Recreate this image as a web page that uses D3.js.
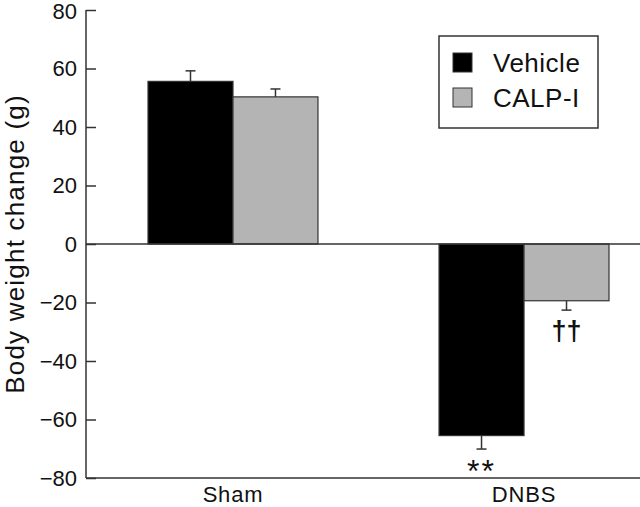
<!DOCTYPE html>
<html>
<head>
<meta charset="utf-8">
<script src="https://cdn.jsdelivr.net/npm/d3@7"></script>
<style>
  body { margin: 0; background: #fff; }
  svg { display: block; font-family: "Liberation Sans", Arial, sans-serif; }
</style>
</head>
<body>
<div id="chart"></div>
<script>
// data
var groups = ["Sham", "DNBS"];
var series = ["Vehicle", "CALP-I"];
var colors = ["#000000", "#b4b4b4"];
var vehicleMeans = [55.6, -65.5];
var vehicleErr = [3.6, 4.6];
var calpMeans = [50.3, -19.4];
var calpErr = [2.7, 3.2];
var marks = ["**", "††"];      // significance symbols for DNBS bars
var yTicks = [-80, -60, -40, -20, 0, 20, 40, 60, 80];

var svgWidth = 640, svgHeight = 507;

var rows = [];
groups.forEach(function(g, i) {
  rows.push({ group: g, series: series[0], value: vehicleMeans[i], err: vehicleErr[i] });
  rows.push({ group: g, series: series[1], value: calpMeans[i], err: calpErr[i] });
});

var svg = d3.select("#chart").append("svg")
  .attr("width", svgWidth)
  .attr("height", svgHeight);

var y = d3.scaleLinear().domain([-80, 80]).range([478, 10]);
var x0 = d3.scaleBand().domain(groups).range([148, 609]).paddingInner(0.416).paddingOuter(0);
var x1 = d3.scaleBand().domain(series).range([0, x0.bandwidth()]).padding(0);
var color = d3.scaleOrdinal().domain(series).range(colors);
var axisX = 86;

// y axis, ticks pointing inward
var yAxis = svg.append("g")
  .attr("transform", "translate(" + axisX + ",0)")
  .call(d3.axisRight(y).tickValues(yTicks).tickSize(10).tickFormat(""));
yAxis.select(".domain").remove();
yAxis.selectAll(".tick line").attr("stroke", "#333").attr("stroke-width", 1.5);
svg.append("line")
  .attr("x1", axisX).attr("x2", axisX)
  .attr("y1", y(80)).attr("y2", y(-80))
  .attr("stroke", "#333").attr("stroke-width", 1.5);

// tick labels (minus sign like the figure)
svg.append("g").selectAll("text")
  .data(yTicks)
  .enter().append("text")
  .attr("x", 77)
  .attr("y", function(d) { return y(d); })
  .attr("dy", function(d) { return d === 80 ? "0.42em" : "0.36em"; })
  .attr("text-anchor", "end")
  .attr("font-size", 22)
  .attr("fill", "#111")
  .text(function(d) { return d < 0 ? "\u2212" + Math.abs(d) : d; });

// y title
svg.append("text")
  .attr("transform", "translate(24," + y(0) + ") rotate(-90)")
  .attr("text-anchor", "middle")
  .attr("font-size", 26)
  .attr("letter-spacing", 1.2)
  .attr("fill", "#111")
  .text("Body weight change (g)");

// bars
var bar = svg.append("g").selectAll("g")
  .data(rows)
  .enter().append("g")
  .attr("transform", function(d) { return "translate(" + (x0(d.group) + x1(d.series)) + ",0)"; });

bar.append("rect")
  .attr("x", 0)
  .attr("y", function(d) { return y(Math.max(0, d.value)); })
  .attr("width", x1.bandwidth())
  .attr("height", function(d) { return Math.abs(y(d.value) - y(0)); })
  .attr("fill", function(d) { return color(d.series); })
  .attr("stroke", "#333")
  .attr("stroke-width", 1.2);

// error bars, away from zero
function errEnd(d) { return y(d.value + (d.value < 0 ? -d.err : d.err)); }
bar.append("line")
  .attr("x1", x1.bandwidth() / 2).attr("x2", x1.bandwidth() / 2)
  .attr("y1", function(d) { return y(d.value); })
  .attr("y2", errEnd)
  .attr("stroke", "#333").attr("stroke-width", 1.5);
bar.append("line")
  .attr("x1", x1.bandwidth() / 2 - 5).attr("x2", x1.bandwidth() / 2 + 5)
  .attr("y1", errEnd)
  .attr("y2", errEnd)
  .attr("stroke", "#333").attr("stroke-width", 1.5);

// zero line and bottom axis line
svg.append("line")
  .attr("x1", axisX).attr("x2", svgWidth)
  .attr("y1", y(0)).attr("y2", y(0))
  .attr("stroke", "#333").attr("stroke-width", 1.5);
svg.append("line")
  .attr("x1", axisX).attr("x2", svgWidth)
  .attr("y1", y(-80)).attr("y2", y(-80))
  .attr("stroke", "#333").attr("stroke-width", 1.5);

// significance marks under DNBS bars
var dn = rows.filter(function(d) { return d.group === "DNBS"; });
svg.append("g").selectAll("text")
  .data(dn)
  .enter().append("text")
  .attr("x", function(d) { return x0(d.group) + x1(d.series) + x1.bandwidth() / 2; })
  .attr("y", function(d, i) { return errEnd(d) + (i === 0 ? 33 : 30); })
  .attr("text-anchor", "middle")
  .attr("font-size", function(d, i) { return i === 0 ? 32 : 27; })
  .attr("font-weight", function(d, i) { return i === 0 ? "normal" : "bold"; })
  .attr("letter-spacing", function(d, i) { return i === 0 ? 2 : 0; })
  .attr("fill", "#111")
  .text(function(d, i) { return marks[i]; });

// x labels
svg.append("g").selectAll("text")
  .data(groups)
  .enter().append("text")
  .attr("x", function(d) { return x0(d) + x0.bandwidth() / 2; })
  .attr("y", 502)
  .attr("text-anchor", "middle")
  .attr("font-size", 22)
  .attr("letter-spacing", 0.8)
  .attr("fill", "#111")
  .text(function(d) { return d; });

// legend
var legend = svg.append("g").attr("transform", "translate(439,36)");
legend.append("rect")
  .attr("width", 159).attr("height", 92)
  .attr("fill", "#fff").attr("stroke", "#333").attr("stroke-width", 1.5);
var item = legend.selectAll(".item")
  .data(series)
  .enter().append("g")
  .attr("class", "item")
  .attr("transform", function(d, i) { return "translate(14," + (17 + i * 35) + ")"; });
item.append("rect")
  .attr("width", 19).attr("height", 19)
  .attr("fill", function(d) { return color(d); })
  .attr("stroke", "#333").attr("stroke-width", 1);
item.append("text")
  .attr("x", 40).attr("y", 19)
  .attr("font-size", 26)
  .attr("letter-spacing", 0.5)
  .attr("fill", "#111")
  .text(function(d) { return d; });
</script>
</body>
</html>
